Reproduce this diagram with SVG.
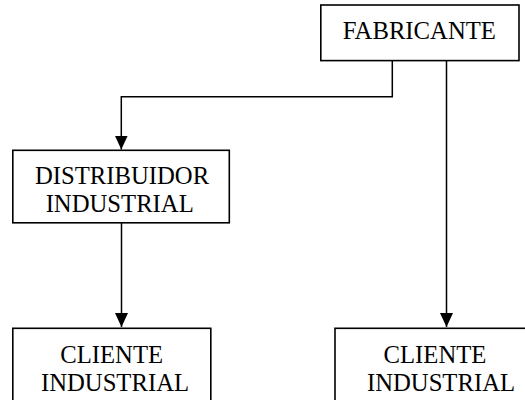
<svg xmlns="http://www.w3.org/2000/svg" width="525" height="400" viewBox="0 0 525 400">
<style>
.box{fill:#fff;stroke:#000;stroke-width:1.6}
.t{font-family:"Liberation Serif","Times New Roman",serif;font-size:24.7px;fill:#000;text-anchor:middle}
.c{fill:none;stroke:#000;stroke-width:1.5}
</style>
<defs>
<marker id="ah" markerUnits="userSpaceOnUse" markerWidth="14" markerHeight="14" viewBox="0 0 14 14" refX="14" refY="7" orient="auto">
<path d="M0,0.5 L14,7 L0,13.5 Z" fill="#000"/>
</marker>
</defs>
<rect x="0" y="0" width="525" height="400" fill="#fff"/>
<g id="connectors">
<polyline class="c" points="392.3,60 392.3,96.7 121.3,96.7 121.3,149.5" marker-end="url(#ah)"/>
<polyline class="c" points="446.5,57 446.5,327" marker-end="url(#ah)"/>
<polyline class="c" points="121.5,220 121.5,327" marker-end="url(#ah)"/>
</g>
<g id="fabricante">
<rect class="box" x="320.8" y="5" width="198.2" height="55.6"/>
<text class="t" x="419.3" y="39.3">FABRICANTE</text>
</g>
<g id="distribuidor">
<rect class="box" x="12.8" y="150.3" width="216.5" height="72.5"/>
<text class="t" x="122" y="184">DISTRIBUIDOR</text>
<text class="t" x="119.7" y="211.7">INDUSTRIAL</text>
</g>
<g id="cliente1">
<rect class="box" x="12.8" y="328.3" width="198" height="80"/>
<text class="t" x="111.7" y="363.3">CLIENTE</text>
<text class="t" x="115" y="390.7">INDUSTRIAL</text>
</g>
<g id="cliente2">
<rect class="box" x="335" y="328.3" width="198" height="80"/>
<text class="t" x="435" y="363.3">CLIENTE</text>
<text class="t" x="441" y="390.7">INDUSTRIAL</text>
</g>
</svg>
